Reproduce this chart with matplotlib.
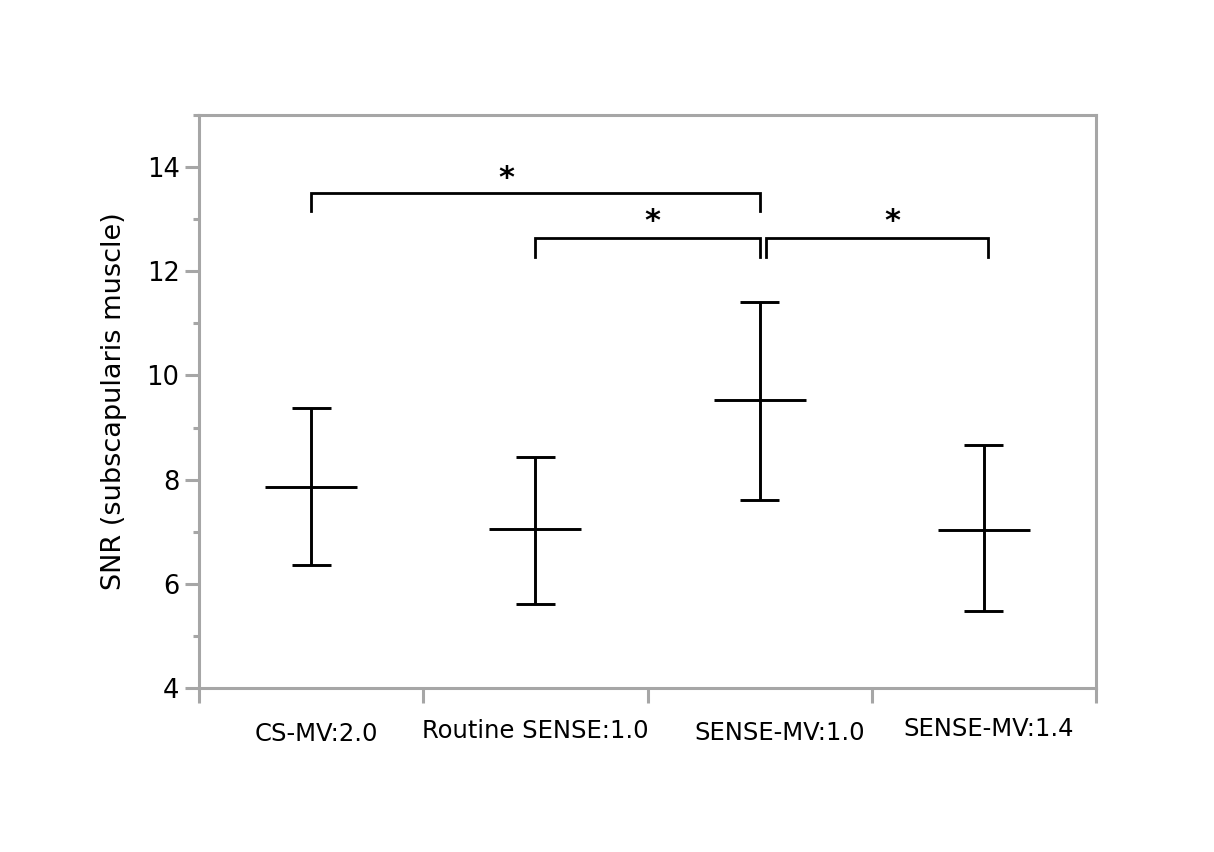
import numpy as np
import matplotlib.pyplot as plt
from matplotlib.ticker import MultipleLocator

# --- data ---
groups = ['CS-MV:2.0', 'Routine SENSE:1.0', 'SENSE-MV:1.0', 'SENSE-MV:1.4']
means = [7.85, 7.05, 9.52, 7.04]
upper = [9.38, 8.44, 11.41, 8.66]
lower = [6.36, 5.61, 7.60, 5.48]

# significance brackets: (x start, x end, bar height, leg bottom)
brk_x0 = [0.5, 1.5, 2.53]
brk_x1 = [2.5, 2.5, 3.52]
brk_top = [13.50, 12.64, 12.64]
brk_low = [13.16, 12.28, 12.28]
star_x = [1.37, 2.02, 3.09]
star_y = [13.62, 12.80, 12.80]

grey = '#a6a6a6'
x = np.arange(len(groups)) + 0.5

fig = plt.figure(figsize=(12.14, 8.52), dpi=100)
ax = fig.add_axes([199/1214, 1 - 688/852, (1096-199)/1214, (688-115)/852])

# error bars: whiskers, caps, mean line
ax.vlines(x, lower, upper, color='black', lw=2.1)
ax.hlines(upper, x - 0.087, x + 0.087, color='black', lw=2.1)
ax.hlines(lower, x - 0.087, x + 0.087, color='black', lw=2.1)
ax.hlines(means, x - 0.205, x + 0.205, color='black', lw=2.1)

# brackets + stars
for x0, x1, yt, yl in zip(brk_x0, brk_x1, brk_top, brk_low):
    ax.plot([x0, x0, x1, x1], [yl, yt, yt, yl], color='black', lw=2.0,
            solid_joinstyle='miter')
for sx, sy in zip(star_x, star_y):
    ax.text(sx, sy, '*', fontsize=22, fontweight='bold', ha='center',
            va='baseline', color='black')

ax.set_xlim(0, 4)
ax.set_ylim(4, 15)

# axes styling
for sp in ax.spines.values():
    sp.set_color(grey)
    sp.set_linewidth(2.2)

ax.set_xticks(np.arange(0, 5))
ax.set_xticklabels([])
ax.tick_params(axis='x', direction='out', length=11, width=2.2, color=grey)

ax.yaxis.set_major_locator(MultipleLocator(2))
ax.yaxis.set_minor_locator(MultipleLocator(1))
ax.tick_params(axis='y', which='major', direction='out', length=10, width=2.2,
               color=grey, labelsize=18.5, pad=4)
ax.tick_params(axis='y', which='minor', direction='out', length=4.5, width=2.2,
               color=grey)

ax.set_ylabel('SNR (subscapularis muscle)', fontsize=19.5, labelpad=14)

# group labels (hand placed in the original, slightly offset)
label_dx = [5, 0, 20, 5]
label_dy = [-46, -43, -45, -41]
for xi, lab, dx, dy in zip(x, groups, label_dx, label_dy):
    ax.annotate(lab, xy=(xi, 0), xycoords=('data', 'axes fraction'),
                xytext=(dx, dy), textcoords='offset pixels',
                ha='center', va='center', fontsize=17.5)

fig.savefig('out.png', dpi=100)
